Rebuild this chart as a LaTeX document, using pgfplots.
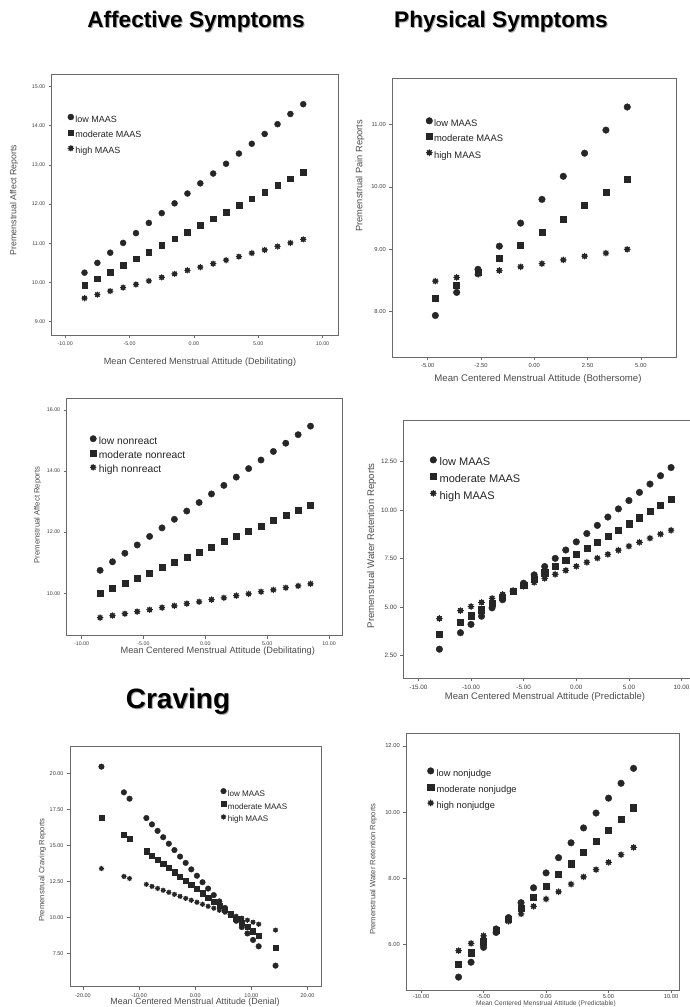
\documentclass[border=0pt]{standalone}
\usepackage{fontspec}
\setmainfont{Liberation Sans}
\usepackage{pgfplots}
\pgfplotsset{compat=1.18}
\definecolor{framegray}{RGB}{105,105,105}
\definecolor{ticktext}{RGB}{60,60,60}
\definecolor{labgray}{RGB}{75,75,75}
\definecolor{markcol}{RGB}{38,38,38}
\definecolor{legtext}{RGB}{35,35,35}

\pgfdeclareplotmark{spssstar}{%
  \pgfpathcircle{\pgfpointorigin}{0.8\pgfplotmarksize}\pgfusepathqfill
  \pgfsetlinewidth{1.0pt}%
  \pgfpathmoveto{\pgfpointpolar{0}{\pgfplotmarksize}}\pgfpathlineto{\pgfpointpolar{180}{\pgfplotmarksize}}%
  \pgfpathmoveto{\pgfpointpolar{45}{\pgfplotmarksize}}\pgfpathlineto{\pgfpointpolar{225}{\pgfplotmarksize}}%
  \pgfpathmoveto{\pgfpointpolar{90}{\pgfplotmarksize}}\pgfpathlineto{\pgfpointpolar{270}{\pgfplotmarksize}}%
  \pgfpathmoveto{\pgfpointpolar{135}{\pgfplotmarksize}}\pgfpathlineto{\pgfpointpolar{315}{\pgfplotmarksize}}%
  \pgfusepathqstroke}

\pgfplotsset{
  legend image code/.code={\draw[mark repeat=2,mark phase=2,#1] plot coordinates {(0pt,3pt)(3.5pt,3pt)(7pt,3pt)};},
  spss/.style={
    scale only axis, anchor=south west, clip=false,
    axis line style={draw=framegray,line width=0.8pt},
    tick style={draw=framegray,line width=0.6pt},
    tick align=outside, major tick length=3pt,
    xtick pos=left, ytick pos=left,
    minor tick num=0, scaled ticks=false,
    /pgf/number format/fixed, /pgf/number format/fixed zerofill,
    /pgf/number format/precision=2, /pgf/number format/assume math mode=true,
    ticklabel style={text=ticktext},
    legend cell align=left,
    legend style={draw=none, fill=none, inner sep=0pt, anchor=north west, text=legtext},
  },
  lo/.style={only marks, mark=*, color=markcol, fill=markcol},
  mo/.style={only marks, mark=square*, color=markcol, fill=markcol},
  hi/.style={only marks, mark=spssstar, color=markcol, fill=markcol},
}

\begin{document}
\begin{tikzpicture}
\path[use as bounding box] (0pt,0pt) rectangle (689pt,-1007pt);

% ---------- Titles ----------
\begin{scope}[every node/.style={font=\fontsize{22.6}{26}\selectfont\bfseries}]
\node[text=black!35] at (197pt,-23pt) {Affective Symptoms};
\node[text=black] at (196pt,-22pt) {Affective Symptoms};
\node[text=black!35] at (502pt,-23pt) {Physical Symptoms};
\node[text=black] at (501pt,-22pt) {Physical Symptoms};
\end{scope}
\node[text=black!35,font=\fontsize{28}{32}\selectfont\bfseries] at (179pt,-702pt) {Craving};
\node[text=black,font=\fontsize{28}{32}\selectfont\bfseries] at (178pt,-701pt) {Craving};

% ---------- Panel 1 ----------
\begin{axis}[spss, at={(51.7pt,-335pt)}, width=286.3pt, height=261pt,
  xmin=-11.05, xmax=11.2, ymin=8.66, ymax=15.32,
  xtick={-10,-5,0,5,10}, ytick={9,10,11,12,13,14,15},
  ticklabel style={font=\fontsize{5.3}{6}\selectfont},
  mark size=3pt,
  legend style={at={(axis description cs:0.0552,0.8475)}, font=\fontsize{9}{9}\selectfont,
    nodes={inner xsep=1.5pt, inner ysep=0pt, text height=6.75pt, text depth=2.25pt}, row sep=5.2pt}]
\addplot[lo] coordinates {(-8.5,10.25)(-7.5,10.50)(-6.5,10.76)(-5.5,11.01)(-4.5,11.26)(-3.5,11.52)(-2.5,11.77)(-1.5,12.02)(-0.5,12.27)(0.5,12.53)(1.5,12.78)(2.5,13.03)(3.5,13.29)(4.5,13.54)(5.5,13.79)(6.5,14.04)(7.5,14.30)(8.5,14.55)};
\addlegendentry{low MAAS}
\addplot[mo, mark size=2.8pt] coordinates {(-8.5,9.93)(-7.5,10.10)(-6.5,10.27)(-5.5,10.44)(-4.5,10.61)(-3.5,10.78)(-2.5,10.95)(-1.5,11.12)(-0.5,11.29)(0.5,11.46)(1.5,11.63)(2.5,11.80)(3.5,11.97)(4.5,12.14)(5.5,12.31)(6.5,12.48)(7.5,12.65)(8.5,12.82)};
\addlegendentry{moderate MAAS}
\addplot[hi, mark size=3.1pt] coordinates {(-8.5,9.60)(-7.5,9.69)(-6.5,9.78)(-5.5,9.87)(-4.5,9.95)(-3.5,10.04)(-2.5,10.13)(-1.5,10.22)(-0.5,10.31)(0.5,10.39)(1.5,10.48)(2.5,10.57)(3.5,10.66)(4.5,10.75)(5.5,10.83)(6.5,10.92)(7.5,11.01)(8.5,11.10)};
\addlegendentry{high MAAS}
\end{axis}
\node[rotate=90, text=labgray, font=\fontsize{8.8}{9}\selectfont] at (14pt,-200pt) {Premenstrual Affect Reports};
\node[text=labgray, font=\fontsize{9.1}{9}\selectfont] at (200pt,-362pt) {Mean Centered Menstrual Attitude (Debilitating)};

% ---------- Panel 2 ----------
\begin{axis}[spss, at={(392.3pt,-357.3pt)}, width=284.4pt, height=279pt,
  xmin=-6.66, xmax=6.68, ymin=7.27, ymax=11.74,
  xtick={-5,-2.5,0,2.5,5}, ytick={8,9,10,11},
  ticklabel style={font=\fontsize{5.8}{6}\selectfont},
  mark size=3.3pt,
  legend style={at={(axis description cs:0.1178,0.8602)}, font=\fontsize{9.4}{9}\selectfont,
    nodes={inner xsep=1.5pt, inner ysep=0pt, text height=7pt, text depth=2.4pt}, row sep=5.1pt}]
\addplot[lo] coordinates {(-4.64,7.94)(-3.64,8.31)(-2.64,8.68)(-1.64,9.05)(-0.64,9.42)(0.36,9.80)(1.36,10.17)(2.36,10.54)(3.36,10.91)(4.36,11.28)};
\addlegendentry{low MAAS}
\addplot[mo, mark size=3pt] coordinates {(-4.64,8.22)(-3.64,8.43)(-2.64,8.64)(-1.64,8.86)(-0.64,9.07)(0.36,9.28)(1.36,9.49)(2.36,9.70)(3.36,9.92)(4.36,10.13)};
\addlegendentry{moderate MAAS}
\addplot[hi, mark size=3.3pt] coordinates {(-4.64,8.49)(-3.64,8.55)(-2.64,8.60)(-1.64,8.66)(-0.64,8.72)(0.36,8.77)(1.36,8.83)(2.36,8.89)(3.36,8.94)(4.36,9.00)};
\addlegendentry{high MAAS}
\end{axis}
\node[rotate=90, text=labgray, font=\fontsize{9.3}{9}\selectfont] at (360pt,-175.7pt) {Premenstrual Pain Reports};
\node[text=labgray, font=\fontsize{9.6}{9}\selectfont] at (538pt,-379pt) {Mean Centered Menstrual Attitude (Bothersome)};

% ---------- Panel 3 ----------
\begin{axis}[spss, at={(66.7pt,-635.7pt)}, width=276pt, height=237.4pt,
  xmin=-11.2, xmax=11.1, ymin=8.61, ymax=16.38,
  xtick={-10,-5,0,5,10}, ytick={10,12,14,16},
  ticklabel style={font=\fontsize{5.3}{6}\selectfont},
  mark size=3.2pt,
  legend style={at={(axis description cs:0.0837,0.8441)}, font=\fontsize{10.3}{10}\selectfont,
    nodes={inner xsep=2.5pt, inner ysep=0pt, text height=7.7pt, text depth=2.6pt}, row sep=3.05pt}]
\addplot[lo] coordinates {(-8.5,10.75)(-7.5,11.03)(-6.5,11.31)(-5.5,11.58)(-4.5,11.86)(-3.5,12.14)(-2.5,12.42)(-1.5,12.69)(-0.5,12.97)(0.5,13.25)(1.5,13.53)(2.5,13.80)(3.5,14.08)(4.5,14.36)(5.5,14.64)(6.5,14.91)(7.5,15.19)(8.5,15.47)};
\addlegendentry{low nonreact}
\addplot[mo, mark size=3pt] coordinates {(-8.5,9.99)(-7.5,10.16)(-6.5,10.33)(-5.5,10.50)(-4.5,10.67)(-3.5,10.84)(-2.5,11.01)(-1.5,11.18)(-0.5,11.35)(0.5,11.52)(1.5,11.70)(2.5,11.87)(3.5,12.04)(4.5,12.21)(5.5,12.38)(6.5,12.55)(7.5,12.72)(8.5,12.89)};
\addlegendentry{moderate nonreact}
\addplot[hi, mark size=3.2pt] coordinates {(-8.5,9.20)(-7.5,9.27)(-6.5,9.33)(-5.5,9.40)(-4.5,9.46)(-3.5,9.53)(-2.5,9.59)(-1.5,9.66)(-0.5,9.72)(0.5,9.79)(1.5,9.85)(2.5,9.92)(3.5,9.98)(4.5,10.05)(5.5,10.11)(6.5,10.18)(7.5,10.24)(8.5,10.31)};
\addlegendentry{high nonreact}
\end{axis}
\node[rotate=90, text=labgray, font=\fontsize{7.7}{8}\selectfont] at (37.7pt,-515pt) {Premenstrual Affect Reports};
\node[text=labgray, font=\fontsize{9.2}{9}\selectfont] at (217.8pt,-651pt) {Mean Centered Menstrual Attitude (Debilitating)};

% ---------- Panel 4 ----------
\begin{axis}[spss, at={(403.3pt,-678.3pt)}, width=286.7pt, height=258.3pt,
  xmin=-16.43, xmax=10.8, ymin=1.34, ymax=14.65,
  xtick={-15,-10,-5,0,5,10}, ytick={2.5,5,7.5,10,12.5},
  ticklabel style={font=\fontsize{6.3}{7}\selectfont},
  mark size=3.3pt,
  legend style={at={(axis description cs:0.0924,0.8591)}, font=\fontsize{11}{11}\selectfont,
    nodes={inner xsep=3pt, inner ysep=0pt, text height=8.25pt, text depth=2.75pt}, row sep=5pt}]
\addplot[lo] coordinates {(-13,2.84)(-11,3.69)(-10,4.12)(-9,4.54)(-8,4.97)(-7,5.39)(-6,5.82)(-5,6.24)(-4,6.67)(-3,7.10)(-2,7.52)(-1,7.95)(0,8.37)(1,8.80)(2,9.22)(3,9.65)(4,10.07)(5,10.50)(6,10.92)(7,11.35)(8,11.78)(9,12.20)};
\addlegendentry{low MAAS}
\addplot[mo, mark size=3.1pt] coordinates {(-13,3.62)(-11,4.25)(-10,4.57)(-9,4.88)(-8,5.20)(-7,5.52)(-6,5.83)(-5,6.15)(-4,6.46)(-3,6.78)(-2,7.10)(-1,7.41)(0,7.73)(1,8.04)(2,8.36)(3,8.68)(4,8.99)(5,9.31)(6,9.62)(7,9.94)(8,10.26)(9,10.57)};
\addlegendentry{moderate MAAS}
\addplot[hi, mark size=3.3pt] coordinates {(-13,4.42)(-11,4.83)(-10,5.04)(-9,5.25)(-8,5.46)(-7,5.66)(-6,5.87)(-5,6.08)(-4,6.28)(-3,6.49)(-2,6.70)(-1,6.90)(0,7.11)(1,7.32)(2,7.53)(3,7.73)(4,7.94)(5,8.15)(6,8.35)(7,8.56)(8,8.77)(9,8.97)};
\addlegendentry{high MAAS}
\end{axis}
\node[rotate=90, text=labgray, font=\fontsize{9.6}{10}\selectfont] at (371.7pt,-545.8pt) {Premenstrual Water Retention Reports};
\node[text=labgray, font=\fontsize{9.45}{10}\selectfont] at (545pt,-696.7pt) {Mean Centered Menstrual Attitude (Predictable)};

% ---------- Panel 5 ----------
\begin{axis}[spss, at={(70pt,-986.7pt)}, width=251pt, height=240.7pt,
  xmin=-22.3, xmax=22.4, ymin=5.21, ymax=21.89,
  xtick={-20,-10,0,10,20}, ytick={7.5,10,12.5,15,17.5,20},
  ticklabel style={font=\fontsize{5.5}{6}\selectfont},
  mark size=2.8pt,
  legend style={at={(axis description cs:0.5996,0.8251)}, font=\fontsize{8.1}{8}\selectfont,
    nodes={inner xsep=1.5pt, inner ysep=0pt, text height=6.1pt, text depth=2pt}, row sep=3.25pt}]
\addplot[lo] coordinates {(-16.7,20.46)(-12.7,18.68)(-11.7,18.24)(-8.7,16.90)(-7.7,16.46)(-6.7,16.01)(-5.7,15.57)(-4.7,15.12)(-3.7,14.68)(-2.7,14.23)(-1.7,13.79)(-0.7,13.34)(0.3,12.90)(1.3,12.45)(2.3,12.01)(3.3,11.56)(4.3,11.12)(5.3,10.67)(6.3,10.23)(7.3,9.78)(8.3,9.34)(9.3,8.90)(10.3,8.45)(11.3,8.01)(14.3,6.67)};
\addlegendentry{low MAAS}
\addplot[mo, mark size=2.6pt] coordinates {(-16.7,16.93)(-12.7,15.76)(-11.7,15.47)(-8.7,14.60)(-7.7,14.31)(-6.7,14.02)(-5.7,13.73)(-4.7,13.43)(-3.7,13.14)(-2.7,12.85)(-1.7,12.56)(-0.7,12.27)(0.3,11.98)(1.3,11.69)(2.3,11.40)(3.3,11.10)(4.3,10.81)(5.3,10.52)(6.3,10.23)(7.3,9.94)(8.3,9.65)(9.3,9.36)(10.3,9.06)(11.3,8.77)(14.3,7.90)};
\addlegendentry{moderate MAAS}
\addplot[hi, mark size=2.6pt] coordinates {(-16.7,13.40)(-12.7,12.85)(-11.7,12.71)(-8.7,12.30)(-7.7,12.16)(-6.7,12.02)(-5.7,11.89)(-4.7,11.75)(-3.7,11.61)(-2.7,11.47)(-1.7,11.33)(-0.7,11.20)(0.3,11.06)(1.3,10.92)(2.3,10.78)(3.3,10.65)(4.3,10.51)(5.3,10.37)(6.3,10.23)(7.3,10.09)(8.3,9.96)(9.3,9.82)(10.3,9.68)(11.3,9.54)(14.3,9.13)};
\addlegendentry{high MAAS}
\end{axis}
\node[rotate=90, text=labgray, font=\fontsize{7.7}{8}\selectfont] at (42.3pt,-870pt) {Premenstrual Craving Reports};
\node[text=labgray, font=\fontsize{8.9}{9}\selectfont] at (195pt,-1002.5pt) {Mean Centered Menstrual Attitude (Denial)};

% ---------- Panel 6 ----------
\begin{axis}[spss, at={(406.3pt,-990pt)}, width=273pt, height=256.7pt,
  xmin=-11.18, xmax=10.66, ymin=4.62, ymax=12.38,
  xtick={-10,-5,0,5,10}, ytick={6,8,10,12},
  ticklabel style={font=\fontsize{5.8}{6}\selectfont},
  xticklabel style={yshift=2pt},
  mark size=3.3pt,
  legend style={at={(axis description cs:0.0766,0.8672)}, font=\fontsize{9.3}{9}\selectfont,
    nodes={inner xsep=2.5pt, inner ysep=0pt, text height=7pt, text depth=2.3pt}, row sep=5.2pt}]
\addplot[lo] coordinates {(-7,5.01)(-6,5.46)(-5,5.91)(-4,6.36)(-3,6.81)(-2,7.26)(-1,7.71)(0,8.16)(1,8.62)(2,9.07)(3,9.52)(4,9.97)(5,10.42)(6,10.87)(7,11.32)};
\addlegendentry{low nonjudge}
\addplot[mo, mark size=3.1pt] coordinates {(-7,5.41)(-6,5.75)(-5,6.08)(-4,6.42)(-3,6.76)(-2,7.10)(-1,7.43)(0,7.77)(1,8.11)(2,8.44)(3,8.78)(4,9.12)(5,9.45)(6,9.79)(7,10.13)};
\addlegendentry{moderate nonjudge}
\addplot[hi, mark size=3.3pt] coordinates {(-7,5.81)(-6,6.03)(-5,6.26)(-4,6.48)(-3,6.70)(-2,6.92)(-1,7.15)(0,7.37)(1,7.59)(2,7.82)(3,8.04)(4,8.26)(5,8.48)(6,8.71)(7,8.93)};
\addlegendentry{high nonjudge}
\end{axis}
\node[rotate=90, text=labgray, font=\fontsize{7.65}{8}\selectfont] at (373.3pt,-869.2pt) {Premenstrual Water Retention Reports};
\node[text=labgray, font=\fontsize{6.6}{7}\selectfont, inner sep=0pt] at (546pt,-1003.6pt) {Mean Centered Menstrual Attitude (Predictable)};

\end{tikzpicture}
\end{document}
